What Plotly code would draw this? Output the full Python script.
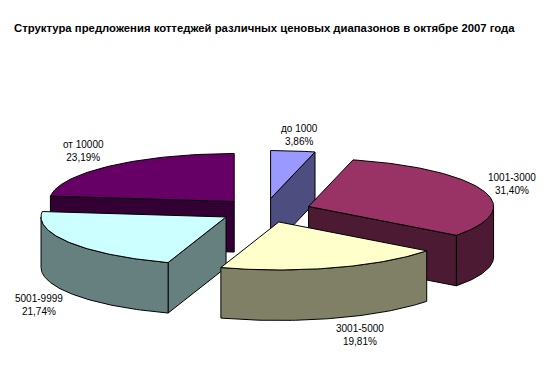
import numpy as np
import plotly.graph_objects as go

TITLE = "Структура предложения коттеджей различных ценовых диапазонов в октябре 2007 года"
categories = ["до 1000", "1001-3000", "3001-5000", "5001-9999", "от 10000"]
shares = [3.86, 31.40, 19.81, 21.74, 23.19]
top_colors = ["#9999FF", "#993366", "#FFFFCC", "#CCFFFF", "#660066"]
side_colors = ["#4D4D80", "#4D1A33", "#808066", "#668080", "#330033"]
label_centers = [(299, 135), (512, 184), (360, 335), (39, 305), (83, 151)]
draw_order = [4, 0, 1, 3, 2]

CX, CY, A, B, DEPTH, EXPLODE = 265, 210.5, 185, 48, 50.5, 0.25
PAGE_MARGIN = 8  # the browser's default body margin

total = sum(shares)
edges = np.concatenate([[0], np.cumsum(shares)]) / total * 2 * np.pi


def arc(t0, t1, apex):
    n = max(int(abs(t1 - t0) * 60), 2)
    t = np.linspace(t0, t1, n)
    return apex[0] + A * np.sin(t), apex[1] - B * np.cos(t)


def poly(fig, x, y, color):
    fig.add_trace(go.Scatter(
        x=list(x) + [x[0]], y=list(y) + [y[0]], mode="lines", fill="toself",
        fillcolor=color, line=dict(color="#000000", width=1),
        hoverinfo="skip", showlegend=False))


fig = go.Figure()
for i in draw_order:
    t0, t1 = edges[i], edges[i + 1]
    mid = (t0 + t1) / 2
    apex = (CX + EXPLODE * A * np.sin(mid), CY - EXPLODE * B * np.cos(mid))
    side = side_colors[i]
    # radial faces
    if np.sin(t0) < -1e-9:
        x, y = apex[0] + A * np.sin(t0), apex[1] - B * np.cos(t0)
        poly(fig, [apex[0], x, x, apex[0]], [apex[1], y, y + DEPTH, apex[1] + DEPTH], side)
    if np.sin(t1) > 1e-9:
        x, y = apex[0] + A * np.sin(t1), apex[1] - B * np.cos(t1)
        poly(fig, [apex[0], x, x, apex[0]], [apex[1], y, y + DEPTH, apex[1] + DEPTH], side)
    # outer rim, front half only
    r0, r1 = max(t0, np.pi / 2), min(t1, 3 * np.pi / 2)
    if r1 > r0:
        ax, ay = arc(r0, r1, apex)
        poly(fig, np.r_[ax, ax[::-1]], np.r_[ay, ay[::-1] + DEPTH], side)
    # top face
    ax, ay = arc(t0, t1, apex)
    poly(fig, np.r_[apex[0], ax], np.r_[apex[1], ay], top_colors[i])

annotations = [
    dict(x=pos[0], y=pos[1], xref="x", yref="y", showarrow=False, align="center",
         text=f"{c}<br>{v:.2f}%".replace(".", ","),
         font=dict(family="Liberation Sans", size=10, color="#000000"))
    for c, v, pos in zip(categories, shares, label_centers)
]
annotations.append(dict(
    x=11.5, y=28, xref="x", yref="y", xanchor="left", showarrow=False, text=f"<b>{TITLE}</b>",
    font=dict(family="Liberation Sans", size=11.33, color="#000000")))

fig.update_layout(
    width=547 - PAGE_MARGIN, height=375 - PAGE_MARGIN, autosize=False,
    margin=dict(l=0, r=0, t=0, b=0),
    paper_bgcolor="#FFFFFF", plot_bgcolor="#FFFFFF", showlegend=False,
    xaxis=dict(range=[PAGE_MARGIN, 547], visible=False, fixedrange=True),
    yaxis=dict(range=[375, PAGE_MARGIN], visible=False, fixedrange=True),
    annotations=annotations,
)
fig.write_html("out.html", config=dict(displayModeBar=False))
